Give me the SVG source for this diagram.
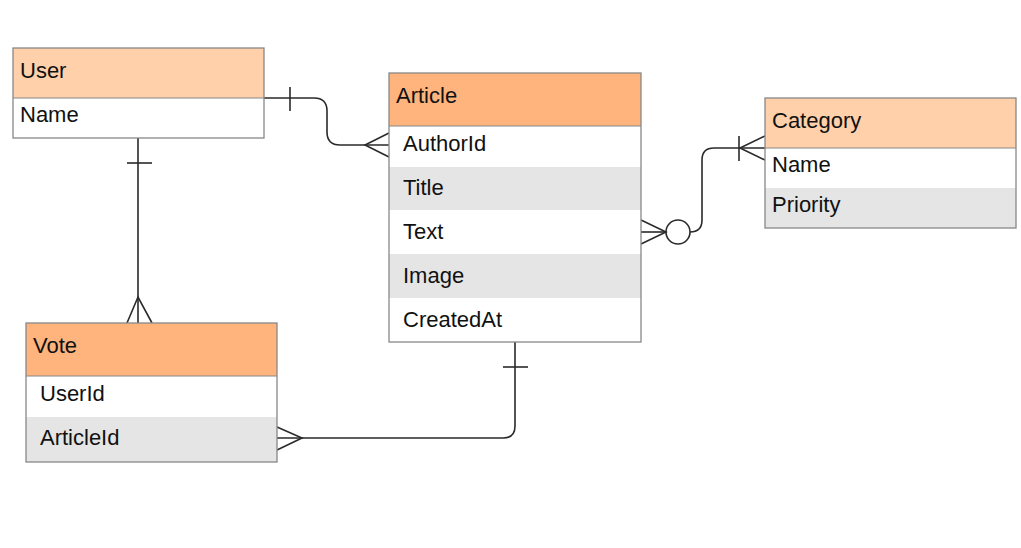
<svg xmlns="http://www.w3.org/2000/svg" width="1021" height="548" viewBox="0 0 1021 548">
<style>
.hl{fill:#ffd0a9}
.hd{fill:#ffb47e}
.rw{fill:#ffffff}
.rg{fill:#e5e5e5}
.box{fill:none;stroke:#888888;stroke-width:1.3}
.sep{stroke:#888888;stroke-width:1}
text{font-family:"Liberation Sans",Arial,sans-serif;font-size:22px;fill:#111111}
.c{fill:none;stroke:#2a2a2a;stroke-width:1.6}
</style>
<rect width="1021" height="548" fill="#ffffff"/>
<g id="connectors">
<path class="c" d="M264,98 H314 Q327,98 327,111 V132 Q327,145 340,145 H389"/>
<path class="c" d="M290,87 V111"/>
<path class="c" d="M389,133 L365,145 L389,157"/>
<path class="c" d="M138,138 V323"/>
<path class="c" d="M127,163 H152"/>
<path class="c" d="M127,323 L138,297 L152,323"/>
<path class="c" d="M515,342 V426 Q515,438 503,438 H277"/>
<path class="c" d="M503,367 H528"/>
<path class="c" d="M277,427 L302,438 L277,450"/>
<path class="c" d="M641,232 H666"/>
<path class="c" d="M641,220 L666,232 L641,244"/>
<circle class="c" cx="678" cy="232" r="12" fill="#ffffff"/>
<path class="c" d="M690,232 Q702,232 702,220 V160 Q702,148 714,148 H765"/>
<path class="c" d="M739,136 V161"/>
<path class="c" d="M765,136 L740,148 L765,160"/>
</g>
<g id="user">
<rect class="hl" x="13" y="48" width="251" height="50"/>
<rect class="rw" x="13" y="98" width="251" height="40"/>
<line class="sep" x1="13" y1="98" x2="264" y2="98"/>
<rect class="box" x="13" y="48" width="251" height="90"/>
<text x="20" y="78">User</text>
<text x="20" y="122">Name</text>
</g>
<g id="article">
<rect class="hd" x="389" y="73" width="252" height="53"/>
<rect class="rw" x="389" y="126" width="252" height="41"/>
<rect class="rg" x="389" y="167" width="252" height="43"/>
<rect class="rw" x="389" y="210" width="252" height="44"/>
<rect class="rg" x="389" y="254" width="252" height="44"/>
<rect class="rw" x="389" y="298" width="252" height="44"/>
<line class="sep" x1="389" y1="126" x2="641" y2="126"/>
<rect class="box" x="389" y="73" width="252" height="269"/>
<text x="396" y="103">Article</text>
<text x="403" y="151">AuthorId</text>
<text x="403" y="195">Title</text>
<text x="403" y="239">Text</text>
<text x="403" y="283">Image</text>
<text x="403" y="327">CreatedAt</text>
</g>
<g id="category">
<rect class="hl" x="765" y="98" width="251" height="50"/>
<rect class="rw" x="765" y="148" width="251" height="40"/>
<rect class="rg" x="765" y="188" width="251" height="40"/>
<line class="sep" x1="765" y1="148" x2="1016" y2="148"/>
<rect class="box" x="765" y="98" width="251" height="130"/>
<text x="772" y="128">Category</text>
<text x="772" y="172">Name</text>
<text x="772" y="212">Priority</text>
</g>
<g id="vote">
<rect class="hd" x="26" y="323" width="251" height="53"/>
<rect class="rw" x="26" y="376" width="251" height="41"/>
<rect class="rg" x="26" y="417" width="251" height="45"/>
<line class="sep" x1="26" y1="376" x2="277" y2="376"/>
<rect class="box" x="26" y="323" width="251" height="139"/>
<text x="33" y="353">Vote</text>
<text x="40" y="401">UserId</text>
<text x="40" y="445">ArticleId</text>
</g>
</svg>
